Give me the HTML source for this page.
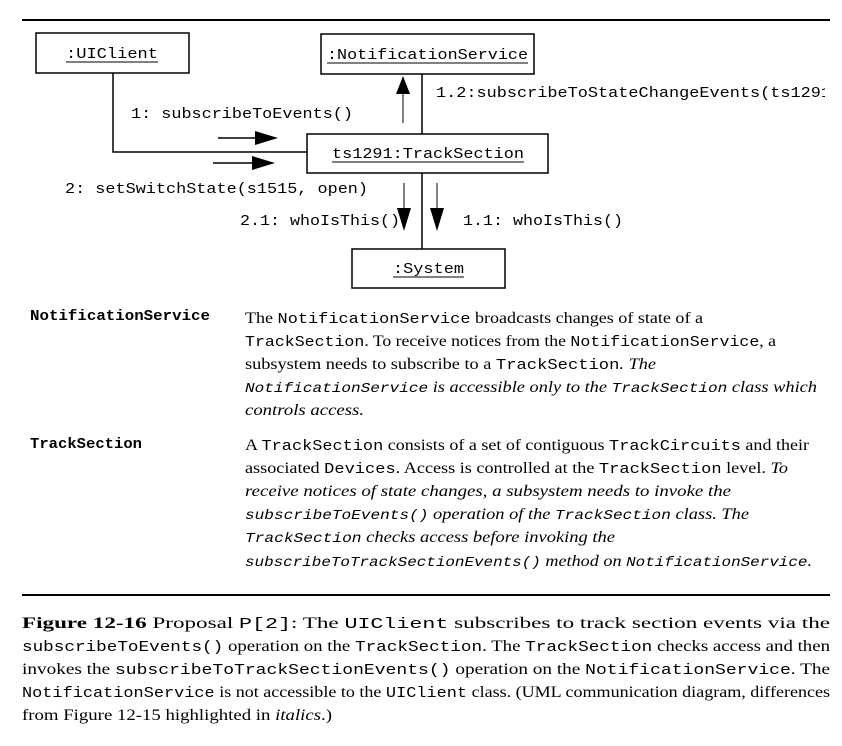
<!DOCTYPE html>
<html><head><meta charset="utf-8"><style>
html,body{margin:0;padding:0;background:#fff;}
svg{display:block;}
.m{font-family:"Liberation Mono",monospace;font-size:15px;}
.s{font-family:"Liberation Serif",serif;font-size:16px;}
.si{font-family:"Liberation Serif",serif;font-size:16px;font-style:italic;}
.mi{font-family:"Liberation Mono",monospace;font-size:14px;font-style:italic;}
.mb{font-family:"Liberation Mono",monospace;font-size:15px;font-weight:bold;}
</style></head><body>
<svg width="842" height="746" viewBox="0 0 842 746" xmlns="http://www.w3.org/2000/svg">
<defs><clipPath id="c"><rect x="0" y="0" width="825" height="746"/></clipPath></defs>
<line x1="22" y1="20" x2="830" y2="20" stroke="#000" stroke-width="2"/>
<g fill="none" stroke="#000" stroke-width="1.5">
<rect x="36" y="33" width="153" height="40"/>
<rect x="321" y="34" width="213" height="40"/>
<rect x="307" y="134" width="241" height="39"/>
<rect x="352" y="249" width="153" height="39"/>
<polyline points="113,73 113,152 307,152"/>
<line x1="422" y1="74" x2="422" y2="134"/>
<line x1="422" y1="173" x2="422" y2="249"/>
<line x1="218" y1="138" x2="260" y2="138"/>
<line x1="213" y1="163" x2="258" y2="163"/>
<line x1="403" y1="92" x2="403" y2="123" stroke-width="1"/>
<line x1="404" y1="183" x2="404" y2="210" stroke-width="1"/>
<line x1="437" y1="183" x2="437" y2="210" stroke-width="1"/>
</g>
<g fill="#000">
<polygon points="255,131 278,138 255,145"/>
<polygon points="252,156 275,163 252,170"/>
<polygon points="403,76 396,94 410,94"/>
<polygon points="404,231 397,208 411,208"/>
<polygon points="437,231 430,208 444,208"/>
</g>
<g class="m" fill="#000">
<text x="66" y="58" textLength="92" lengthAdjust="spacingAndGlyphs">:UIClient</text>
<line x1="66" y1="62" x2="158" y2="62" stroke="#000"/>
<text x="327" y="59" textLength="201" lengthAdjust="spacingAndGlyphs">:NotificationService</text>
<line x1="327" y1="63" x2="528" y2="63" stroke="#000"/>
<text x="332" y="158" textLength="192" lengthAdjust="spacingAndGlyphs">ts1291:TrackSection</text>
<line x1="332" y1="162" x2="524" y2="162" stroke="#000"/>
<text x="393" y="273" textLength="71" lengthAdjust="spacingAndGlyphs">:System</text>
<line x1="393" y1="277" x2="464" y2="277" stroke="#000"/>
<text x="131" y="118" textLength="222" lengthAdjust="spacingAndGlyphs">1: subscribeToEvents()</text>
<text x="65" y="193" textLength="303" lengthAdjust="spacingAndGlyphs">2: setSwitchState(s1515, open)</text>
<text x="240" y="225" textLength="160" lengthAdjust="spacingAndGlyphs">2.1: whoIsThis()</text>
<text x="463" y="225" textLength="160" lengthAdjust="spacingAndGlyphs">1.1: whoIsThis()</text>
<g clip-path="url(#c)"><text x="436" y="97" textLength="395" lengthAdjust="spacingAndGlyphs">1.2:subscribeToStateChangeEvents(ts1291</text></g>
</g>
<text class="mb" x="30" y="320" textLength="180" lengthAdjust="spacingAndGlyphs">NotificationService</text>
<text class="mb" x="30" y="448" textLength="112" lengthAdjust="spacingAndGlyphs">TrackSection</text>
<g fill="#000">
<text x="245" y="323" textLength="458" lengthAdjust="spacingAndGlyphs"><tspan class="s">The </tspan><tspan class="m">NotificationService</tspan><tspan class="s"> broadcasts changes of state of a</tspan></text>
<text x="245" y="346" textLength="531" lengthAdjust="spacingAndGlyphs"><tspan class="m">TrackSection</tspan><tspan class="s">. To receive notices from the </tspan><tspan class="m">NotificationService</tspan><tspan class="s">, a</tspan></text>
<text x="245" y="369" textLength="411" lengthAdjust="spacingAndGlyphs"><tspan class="s">subsystem needs to subscribe to a </tspan><tspan class="m">TrackSection</tspan><tspan class="si">. The</tspan></text>
<text x="245" y="392" textLength="572" lengthAdjust="spacingAndGlyphs"><tspan class="mi">NotificationService</tspan><tspan class="si"> is accessible only to the </tspan><tspan class="mi">TrackSection</tspan><tspan class="si"> class which</tspan></text>
<text x="245" y="415" textLength="119" lengthAdjust="spacingAndGlyphs"><tspan class="si">controls access.</tspan></text>
<text x="245" y="450" textLength="564" lengthAdjust="spacingAndGlyphs"><tspan class="s">A </tspan><tspan class="m">TrackSection</tspan><tspan class="s"> consists of a set of contiguous </tspan><tspan class="m">TrackCircuits</tspan><tspan class="s"> and their</tspan></text>
<text x="245" y="473" textLength="543" lengthAdjust="spacingAndGlyphs"><tspan class="s">associated </tspan><tspan class="m">Devices</tspan><tspan class="s">. Access is controlled at the </tspan><tspan class="m">TrackSection</tspan><tspan class="s"> level. </tspan><tspan class="si">To</tspan></text>
<text x="245" y="496" textLength="486" lengthAdjust="spacingAndGlyphs"><tspan class="si">receive notices of state changes, a subsystem needs to invoke the</tspan></text>
<text x="245" y="519" textLength="504" lengthAdjust="spacingAndGlyphs"><tspan class="mi">subscribeToEvents()</tspan><tspan class="si"> operation of the </tspan><tspan class="mi">TrackSection</tspan><tspan class="si"> class. The</tspan></text>
<text x="245" y="542" textLength="370" lengthAdjust="spacingAndGlyphs"><tspan class="mi">TrackSection</tspan><tspan class="si"> checks access before invoking the</tspan></text>
<text x="245" y="566" textLength="567" lengthAdjust="spacingAndGlyphs"><tspan class="mi">subscribeToTrackSectionEvents()</tspan><tspan class="si"> method on </tspan><tspan class="mi">NotificationService</tspan><tspan class="si">.</tspan></text>
</g>
<line x1="22" y1="595" x2="830" y2="595" stroke="#000" stroke-width="2"/>
<g fill="#000">
<text x="22" y="628" textLength="808" lengthAdjust="spacingAndGlyphs"><tspan class="s" font-weight="bold">Figure 12-16</tspan><tspan class="s">  Proposal </tspan><tspan class="m">P[2]</tspan><tspan class="s">:  The  </tspan><tspan class="m">UIClient</tspan><tspan class="s">  subscribes  to  track  section  events  via  the</tspan></text>
<text x="22" y="651" textLength="808" lengthAdjust="spacingAndGlyphs"><tspan class="m">subscribeToEvents()</tspan><tspan class="s"> operation on the </tspan><tspan class="m">TrackSection</tspan><tspan class="s">. The </tspan><tspan class="m">TrackSection</tspan><tspan class="s"> checks access and then</tspan></text>
<text x="22" y="674" textLength="808" lengthAdjust="spacingAndGlyphs"><tspan class="s">invokes  the  </tspan><tspan class="m">subscribeToTrackSectionEvents()</tspan><tspan class="s">  operation  on  the  </tspan><tspan class="m">NotificationService</tspan><tspan class="s">.  The</tspan></text>
<text x="22" y="697" textLength="808" lengthAdjust="spacingAndGlyphs"><tspan class="m">NotificationService</tspan><tspan class="s"> is not accessible to the </tspan><tspan class="m">UIClient</tspan><tspan class="s"> class. (UML communication diagram, differences</tspan></text>
<text x="22" y="720" textLength="310" lengthAdjust="spacingAndGlyphs"><tspan class="s">from Figure 12-15 highlighted in </tspan><tspan class="si">italics</tspan><tspan class="s">.)</tspan></text>
</g>
</svg>
</body></html>
